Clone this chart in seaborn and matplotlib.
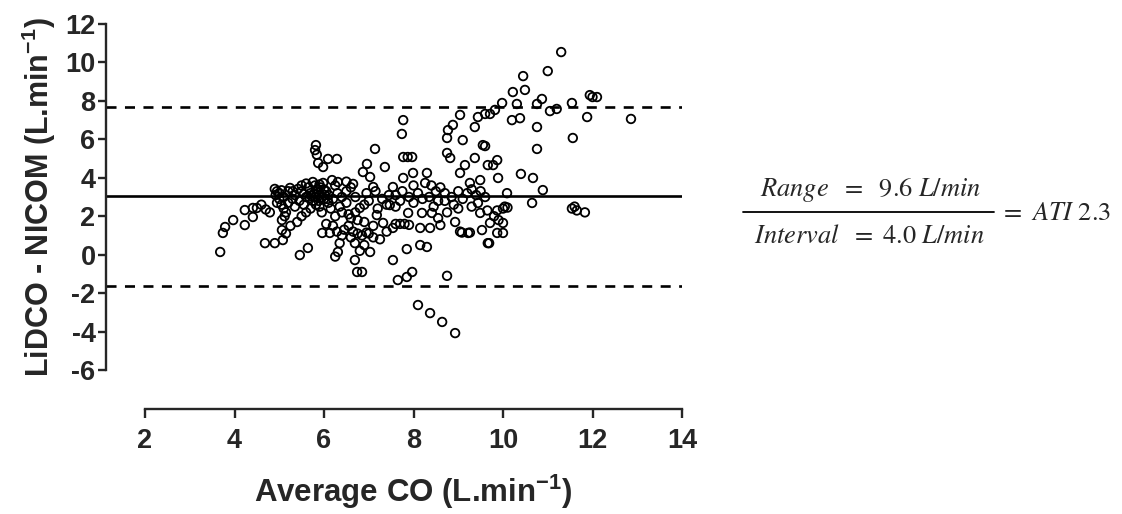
import matplotlib
matplotlib.use("Agg")
import matplotlib.pyplot as plt
import seaborn as sns
import pandas as pd
from matplotlib.lines import Line2D

# ---- data ----
avg_co = [
    3.68, 3.74, 3.79, 3.97, 4.23, 4.23, 4.41, 4.50, 4.68, 4.79, 4.41, 4.60, 4.70,
    4.90, 5.08, 5.06, 5.06, 4.90, 4.95, 5.00, 5.05, 4.92, 5.00, 5.10, 5.05, 4.95, 5.10, 5.15, 5.12, 5.20, 5.24, 5.20, 5.30, 5.25, 5.15,
    5.42, 5.50, 5.46, 5.64, 5.55, 5.60, 5.65, 5.70, 5.75, 5.80, 5.75, 5.80, 5.85, 5.90, 5.82, 5.88, 5.92, 5.95, 5.98, 6.00, 6.05, 6.00,
    5.70, 5.60, 5.50, 5.40, 5.35, 5.45, 5.90, 5.95, 6.10, 6.10, 6.18, 6.25, 6.31, 6.30, 6.20, 6.15, 6.25, 6.35, 6.40, 6.40,
    5.96, 6.13, 6.29, 6.25, 6.31, 6.05, 6.20, 6.40, 6.35, 5.82, 5.80, 5.84, 5.87, 5.98, 6.09, 6.29,
    5.60, 5.50, 5.30, 5.35, 5.55, 5.68, 5.72, 5.78, 5.86, 5.90, 6.02, 6.08,
    6.50, 6.60, 6.65, 6.87, 6.96, 7.03, 7.10, 7.14, 7.36, 6.80, 6.90, 7.00, 6.70, 6.75, 6.60, 6.55, 6.65, 6.75, 6.85, 6.95, 7.00,
    6.69, 7.03, 6.69, 6.74, 6.85, 7.18, 7.32, 7.20, 7.30, 7.45, 7.40, 7.47, 6.50, 6.55, 6.60, 6.90, 6.80, 7.10, 7.25,
    6.50, 6.70, 6.95, 7.15, 6.45, 6.90, 7.10, 7.40,
    7.54, 7.77, 7.99, 8.30, 8.26, 8.40, 7.77, 7.74, 7.77, 7.87, 7.97, 7.54, 7.60, 7.70, 7.80, 7.90, 8.15, 8.37, 8.60,
    7.88, 8.19, 8.41, 7.85, 8.15, 8.30, 7.54, 7.65, 7.85, 7.97, 8.10, 8.37, 8.64,
    7.60, 7.75, 7.90, 8.00, 8.10, 8.20, 8.35, 8.50, 8.55, 7.60, 7.70, 8.45, 8.00, 8.60, 8.55,
    8.75, 8.93, 9.04, 9.22, 9.08, 9.26, 8.75, 8.93, 8.75, 8.77, 8.88, 9.04, 9.10, 8.75, 8.82, 9.37, 9.15, 9.04,
    9.44, 9.60, 9.37, 9.55, 9.60, 9.49, 9.66, 9.26, 9.44, 9.49, 9.66, 9.53, 9.71, 9.69,
    8.70, 8.85, 8.90, 9.00, 9.10, 9.20, 9.30, 9.40, 9.50, 9.60, 9.00, 9.30, 8.70, 9.65,
    9.71, 9.82, 9.98, 10.20, 10.38, 10.22, 10.49, 10.45, 11.00, 11.30, 10.31, 10.76, 10.87, 11.05, 11.20, 11.54,
    11.94, 12.00, 12.10, 11.88, 12.86, 10.76, 11.56, 10.76, 9.87, 9.78, 9.89, 10.40, 10.67, 10.89, 10.09, 10.65,
    9.87, 10.04, 10.00, 10.10, 11.54, 11.65, 11.60, 11.83, 10.00, 10.00, 9.87, 9.80, 9.90,
]
diff_co = [
    0.14, 1.13, 1.44, 1.80, 1.54, 2.32, 1.96, 2.43, 0.60, 2.20, 2.43, 2.60, 2.35,
    0.60, 0.76, 1.28, 1.80, 3.42, 3.30, 3.20, 3.35, 3.10, 2.90, 3.00, 2.60, 2.70, 2.40, 2.20, 2.00, 3.30, 3.47, 2.70, 2.90, 1.50, 1.10,
    3.42, 3.30, -0.02, 0.35, 2.60, 3.00, 3.50, 3.20, 3.78, 3.60, 2.80, 3.00, 3.30, 3.10, 2.60, 2.80, 3.50, 3.00, 3.73, 2.90, 3.30, 3.40,
    2.40, 2.20, 2.00, 1.70, 2.50, 2.80, 2.50, 2.20, 2.70, 3.10, 3.88, 3.60, 3.78, 3.20, 2.90, 2.40, 2.00, 2.50, 2.20, 3.00,
    1.13, 1.13, 1.20, -0.10, 0.14, 1.60, 1.50, 1.00, 0.60, 5.70, 5.44, 5.20, 4.77, 4.56, 4.98, 4.98,
    3.70, 3.60, 3.30, 3.10, 3.15, 2.95, 3.05, 3.15, 3.40, 3.65, 3.10, 2.90,
    3.80, 3.50, 3.68, 4.30, 4.72, 4.04, 3.52, 5.50, 4.56, 2.43, 2.60, 2.80, 2.20, 1.80, 1.90, 2.10, 1.20, 1.10, 1.00, 1.15, 1.10,
    0.60, 0.14, -0.28, -0.90, -0.90, 2.06, 1.65, 2.40, 2.90, 3.10, 2.60, 2.58, 2.70, 1.50, 0.90, 0.50, 0.20, 0.90, 0.80,
    3.30, 3.00, 3.20, 3.30, 1.30, 1.70, 1.50, 1.20,
    3.52, 3.99, 4.25, 4.25, 3.73, 3.60, 7.00, 6.28, 5.08, 5.08, 5.08, 1.39, 1.60, 1.60, 1.60, 1.55, 1.39, 1.39, 1.54,
    2.17, 2.17, 2.17, 0.29, 0.50, 0.40, -0.28, -1.32, -1.16, -0.90, -2.62, -3.04, -3.50,
    3.10, 3.30, 3.00, 2.70, 3.20, 2.90, 3.00, 3.30, 2.80, 2.50, 2.80, 2.50, 3.60, 3.50, 1.90,
    2.20, 1.70, 1.20, 1.13, 1.15, 1.15, -1.10, -4.08, 6.07, 6.48, 6.75, 7.27, 5.96, 5.29, 5.03, 5.03, 4.66, 4.25,
    7.16, 7.32, 6.64, 5.70, 5.65, 3.88, 4.66, 3.73, 2.69, 2.17, 0.60, 1.28, 1.65, 0.60,
    3.20, 3.00, 2.60, 3.30, 2.90, 3.20, 3.40, 3.10, 3.30, 3.00, 2.40, 2.50, 2.80, 2.30,
    7.32, 7.53, 7.89, 7.00, 7.10, 8.46, 8.57, 9.29, 9.55, 10.54, 7.84, 7.84, 8.10, 7.47, 7.58, 7.89,
    8.30, 8.20, 8.20, 7.16, 7.06, 6.64, 6.07, 5.50, 4.92, 4.66, 3.99, 4.20, 3.99, 3.36, 3.20, 2.69,
    2.30, 2.50, 2.40, 2.45, 2.40, 2.30, 2.50, 2.20, 1.65, 1.13, 1.13, 2.00, 1.80,
]
bias = 3.03
upper_loa = 7.68
lower_loa = -1.62
x_ticks = [2, 4, 6, 8, 10, 12, 14]
y_ticks = [-6, -4, -2, 0, 2, 4, 6, 8, 10, 12]
x_label = r"Average CO (L.min$^{\mathregular{-1}}$)"
y_label = r"LiDCO - NICOM (L.min$^{\mathregular{-1}}$)"
ann_num = r"$Range\ \ =\ \ 9.6\ L/min$"
ann_den = r"$Interval\ \ =\ 4.0\ L/min$"
ann_res = r"$=\ ATI\ 2.3$"

df = pd.DataFrame({"avg": avg_co, "diff": diff_co})

sns.set_style("ticks")
plt.rcParams["font.family"] = ["Liberation Sans", "DejaVu Sans"]
plt.rcParams["axes.unicode_minus"] = False

fig = plt.figure(figsize=(11.22, 5.14), dpi=100)
ax = fig.add_axes([106 / 1122, 1 - 370 / 514, (682 - 106) / 1122, (370 - 24) / 514])

sns.scatterplot(data=df, x="avg", y="diff", ax=ax, marker="o", s=38,
                facecolors="none", edgecolor="black", linewidth=1.3, legend=False)

ax.axhline(bias, color="black", lw=1.9, zorder=1)
for v in (upper_loa, lower_loa):
    ax.axhline(v, color="black", lw=1.9, ls=(0, (3.8, 3.2)), zorder=1)

ax.set_xlim(2 - 39 / 44.75, 14)
ax.set_ylim(-6, 12)
ax.set_xticks(x_ticks)
ax.set_yticks(y_ticks)

for side in ("top", "right"):
    ax.spines[side].set_visible(False)
for side in ("left", "bottom"):
    ax.spines[side].set_linewidth(1.7)
ax.spines["bottom"].set_position(("outward", 28))
ax.spines["bottom"].set_bounds(2, 14)
ax.spines["left"].set_bounds(-6, 12)

ax.tick_params(axis="both", width=1.7, labelsize=19.5, direction="out")
ax.tick_params(axis="y", length=5.5, pad=2)
ax.tick_params(axis="x", length=6.5, pad=7)
for lab in ax.get_xticklabels() + ax.get_yticklabels():
    lab.set_fontweight("bold")

ax.set_xlabel(x_label, fontsize=22.5, fontweight="bold", labelpad=14,
              x=(413 - 106) / 576)
ax.set_ylabel(y_label, fontsize=22, fontweight="bold", labelpad=5)

# ATI annotation (fraction)
fs = 19
fig.text(871 / 1122, 1 - 190 / 514, ann_num, fontsize=fs, math_fontfamily="stix",
         ha="center", va="center")
fig.text(869 / 1122, 1 - 236 / 514, ann_den, fontsize=fs, math_fontfamily="stix",
         ha="center", va="center")
fig.add_artist(Line2D([743 / 1122, 994 / 1122], [1 - 212 / 514, 1 - 212 / 514],
                      transform=fig.transFigure, color="black", lw=1.3))
fig.text(1000 / 1122, 1 - 213 / 514, ann_res, fontsize=fs, math_fontfamily="stix",
         ha="left", va="center")

fig.savefig("out.png", dpi=100)
